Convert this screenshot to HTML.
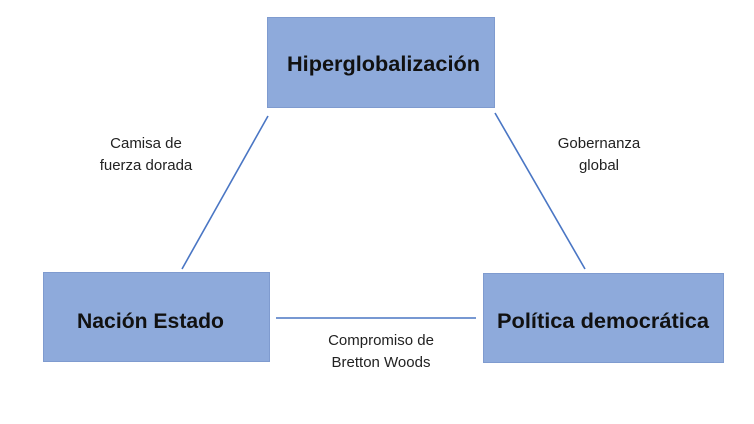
<!DOCTYPE html>
<html><head><meta charset="utf-8"><style>html,body{margin:0;padding:0;background:#fff}svg{display:block}</style></head>
<body>
<svg width="754" height="424" viewBox="0 0 754 424" xmlns="http://www.w3.org/2000/svg" font-family="Liberation Sans, sans-serif">
<rect x="0" y="0" width="754" height="424" fill="#fff"/>
<g fill="#8eaadb" stroke="#7f9bcf" stroke-width="1">
<rect x="267.5" y="17.5" width="227" height="90"/>
<rect x="43.5" y="272.5" width="226" height="89"/>
<rect x="483.5" y="273.5" width="240" height="89"/>
</g>
<g stroke="#4a76c4" stroke-width="1.6">
<line x1="268" y1="116" x2="182" y2="269"/>
<line x1="495" y1="113" x2="585" y2="269"/>
<line x1="276" y1="318" x2="476" y2="318"/>
</g>
<g font-weight="bold" font-size="21" fill="#111">
<text x="287" y="71" textLength="193" lengthAdjust="spacingAndGlyphs">Hiperglobalización</text>
<text x="77" y="328" textLength="147" lengthAdjust="spacingAndGlyphs">Nación Estado</text>
<text x="497" y="328" textLength="212" lengthAdjust="spacingAndGlyphs">Política democrática</text>
</g>
<g font-size="15" fill="#222" text-anchor="middle">
<text x="146" y="148">Camisa de</text>
<text x="146" y="170">fuerza dorada</text>
<text x="599" y="148">Gobernanza</text>
<text x="599" y="170">global</text>
<text x="381" y="345">Compromiso de</text>
<text x="381" y="367">Bretton Woods</text>
</g>
</svg>
</body></html>
